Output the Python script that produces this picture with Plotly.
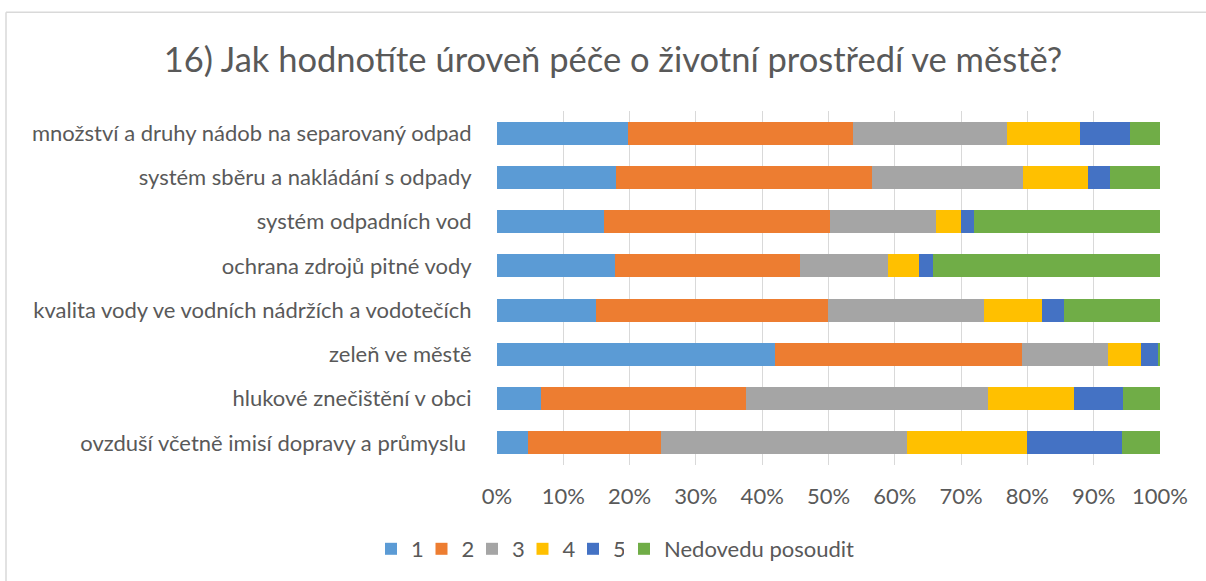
import plotly.graph_objects as go

# Survey: "Jak hodnotíte úroveň péče o životní prostředí ve městě?" (shares in %)
categories = [
    "množství a druhy nádob na separovaný odpad",
    "systém sběru a nakládání s odpady",
    "systém odpadních vod",
    "ochrana zdrojů pitné vody",
    "kvalita vody ve vodních nádržích a vodotečích",
    "zeleň ve městě",
    "hlukové znečištění v obci",
    "ovzduší včetně imisí dopravy a průmyslu ",
]

rating_1 = [19.7, 18.0, 16.2, 17.8, 14.9, 41.9, 6.7, 4.6]
rating_2 = [34.0, 38.5, 34.1, 27.9, 35.0, 37.3, 30.9, 20.2]
rating_3 = [23.2, 22.8, 15.9, 13.2, 23.5, 13.0, 36.4, 37.0]
rating_4 = [11.1, 9.8, 3.8, 4.8, 8.8, 5.0, 13.0, 18.1]
rating_5 = [7.4, 3.3, 1.9, 2.1, 3.3, 2.5, 7.4, 14.3]
cannot_judge = [4.6, 7.6, 28.1, 34.2, 14.5, 0.3, 5.6, 5.8]

series_names = ["1", "2", "3", "4", "5", "Nedovedu posoudit"]
series_values = [rating_1, rating_2, rating_3, rating_4, rating_5, cannot_judge]
series_colors = ["#5B9BD5", "#ED7D31", "#A5A5A5", "#FFC000", "#4472C4", "#70AD47"]
# the numeric ratings share one compact legend row, the long label gets its own
series_legends = ["legend", "legend", "legend", "legend", "legend", "legend2"]

x_ticks = [0, 10, 20, 30, 40, 50, 60, 70, 80, 90, 100]
x_tick_labels = [f"{t}%" for t in x_ticks]

FONT = "Lato, 'Open Sans', sans-serif"
TEXT = "#595959"

W, H = 1206, 581
L, R, T, B = 497, 46, 111, 115
plot_w = W - L - R
plot_h = H - T - B

fig = go.Figure()
for name, vals, color, lg in zip(series_names, series_values, series_colors, series_legends):
    fig.add_trace(go.Bar(
        y=categories, x=vals, name=name, orientation="h", legend=lg,
        marker=dict(color=color, line=dict(width=0)),
        hovertemplate="%{y}: %{x:.1f}%<extra>" + name + "</extra>",
    ))

# outer frame of the chart area (left and top edges, running off the page)
px2x = lambda px: (px - L) / plot_w
px2y = lambda py: 1 - (py - T) / plot_h
frame = dict(type="line", xref="paper", yref="paper",
             line=dict(color="#D9D9D9", width=1.5))
fig.add_shape(**frame, x0=px2x(6), x1=px2x(6), y0=px2y(12), y1=px2y(600))
fig.add_shape(**frame, x0=px2x(6), x1=px2x(1220), y0=px2y(12), y1=px2y(12))

legend_common = dict(orientation="h", xanchor="left", y=px2y(549), yanchor="middle",
                     font=dict(size=22, color=TEXT), traceorder="normal",
                     itemclick=False, bgcolor="rgba(0,0,0,0)")

fig.update_layout(
    width=W, height=H,
    margin=dict(l=L, r=R, t=T, b=B),
    barmode="stack", bargap=0.48,
    paper_bgcolor="white", plot_bgcolor="white",
    font=dict(family=FONT, color=TEXT, size=22),
    title=dict(text="16) Jak hodnotíte úroveň péče o životní prostředí ve městě?",
               x=613 / W, xanchor="center", y=1 - 60 / H, yanchor="middle",
               font=dict(size=34.5, color=TEXT, family=FONT)),
    xaxis=dict(range=[0, 100], tickvals=x_ticks, ticktext=x_tick_labels,
               showgrid=True, gridcolor="#D9D9D9", gridwidth=1.3,
               zeroline=False, showline=False,
               ticks="outside", ticklen=12, tickcolor="rgba(0,0,0,0)",
               tickfont=dict(size=22, color=TEXT)),
    yaxis=dict(categoryorder="array", categoryarray=categories,
               autorange="reversed", showgrid=False, zeroline=False,
               ticks="outside", ticklen=20, tickcolor="rgba(0,0,0,0)",
               tickfont=dict(size=22, color=TEXT)),
    legend=dict(**legend_common, x=px2x(371),
                entrywidth=5.5, entrywidthmode="pixels"),
    legend2=dict(**legend_common, x=px2x(624)),
    showlegend=True,
)

fig.write_html("out.html", config={"displayModeBar": False})
